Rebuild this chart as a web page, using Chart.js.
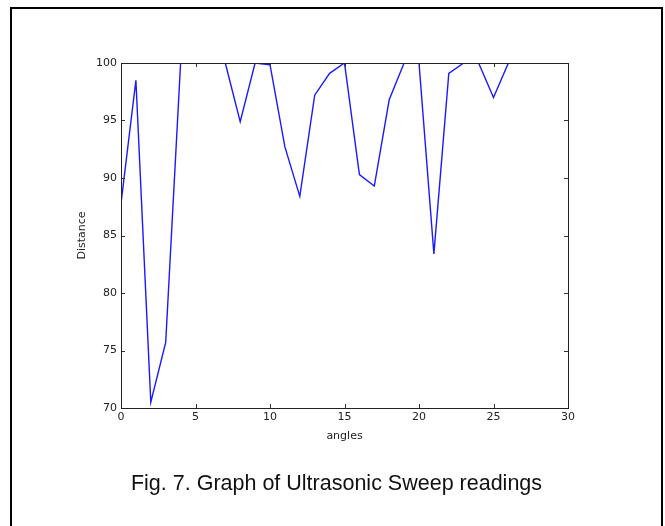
<!DOCTYPE html>
<html>
<head>
<meta charset="utf-8">
<script src="https://cdn.jsdelivr.net/npm/chart.js@4"></script>
<style>
  html, body { margin: 0; padding: 0; background: #fff; }
  body { width: 665px; height: 526px; position: relative; overflow: hidden; }
  #frame { position: absolute; left: 10px; top: 7px; width: 649px; height: 560px; border: 2px solid #000; box-sizing: content-box; }
  #wrap { position: absolute; left: 0; top: 0; width: 665px; height: 526px; }
  #caption { position: absolute; left: 10px; width: 653px; top: 472px; text-align: center;
    font-family: "Liberation Sans", Arial, sans-serif; font-size: 21.5px; line-height: 22px; color: #111; }
</style>
</head>
<body>
<div id="frame"></div>
<div id="wrap"><canvas id="c" width="665" height="526"></canvas></div>
<div id="caption">Fig. 7. Graph of Ultrasonic Sweep readings</div>
<script>
const angles = [0,1,2,3,4,5,6,7,8,9,10,11,12,13,14,15,16,17,18,19,20,21,22,23,24,25,26];
const distance = [87.8,98.5,70.5,75.7,100,100,100,100,94.9,100,99.85,92.7,88.4,97.2,99.1,100,90.3,89.3,96.8,100,100,83.4,99.1,100,100,97.0,100];
const xTicks = [0,5,10,15,20,25,30];
const yTicks = [70,75,80,85,90,95,100];

const frameTicks = {
  id: 'frameTicks',
  afterDraw(chart) {
    const {ctx, chartArea: a, scales} = chart;
    ctx.save();
    ctx.strokeStyle = '#333';
    ctx.lineWidth = 1;
    const L = 4;
    ctx.beginPath();
    xTicks.forEach(v => {
      const x = Math.round(scales.x.getPixelForValue(v)) + 0.5;
      ctx.moveTo(x, a.bottom); ctx.lineTo(x, a.bottom - L);
      ctx.moveTo(x, a.top); ctx.lineTo(x, a.top + L);
    });
    yTicks.forEach(v => {
      const y = Math.round(scales.y.getPixelForValue(v)) + 0.5;
      ctx.moveTo(a.left, y); ctx.lineTo(a.left + L, y);
      ctx.moveTo(a.right, y); ctx.lineTo(a.right - L, y);
    });
    ctx.stroke();
    ctx.strokeStyle = '#222';
    ctx.strokeRect(Math.round(a.left) + 0.5, Math.round(a.top) + 0.5,
                   Math.round(a.right - a.left), Math.round(a.bottom - a.top));
    ctx.restore();
  }
};

new Chart(document.getElementById('c'), {
  type: 'line',
  data: {
    labels: angles,
    datasets: [{
      data: angles.map((a, i) => ({x: a, y: distance[i]})),
      borderColor: '#1a1aff',
      borderWidth: 1.4,
      pointRadius: 0,
      tension: 0,
      fill: false,
      clip: 0
    }]
  },
  options: {
    responsive: false,
    animation: false,
    devicePixelRatio: 1,
    layout: { padding: { left: 0, top: 63, right: 97, bottom: 78 } },
    plugins: { legend: { display: false }, tooltip: { enabled: false } },
    scales: {
      x: {
        type: 'linear', min: 0, max: 30,
        afterBuildTicks(s) { s.ticks = xTicks.map(v => ({value: v})); },
        afterFit(s) { s.height = 40; },
        grid: { display: false, drawTicks: false },
        border: { display: false },
        ticks: { padding: 3, color: '#222', font: { family: 'DejaVu Sans', size: 11 }, maxRotation: 0 },
        title: { display: true, text: 'angles', color: '#222', font: { family: 'DejaVu Sans', size: 11 }, padding: { top: 0, bottom: 5 } }
      },
      y: {
        type: 'linear', min: 70, max: 100,
        afterBuildTicks(s) { s.ticks = yTicks.map(v => ({value: v})); },
        afterFit(s) { s.width = 121; },
        grid: { display: false, drawTicks: false },
        border: { display: false },
        ticks: { padding: 4, color: '#222', font: { family: 'DejaVu Sans', size: 11 } },
        title: { display: true, text: 'Distance', color: '#222', font: { family: 'DejaVu Sans', size: 11 }, padding: { top: 76, bottom: 0 } }
      }
    }
  },
  plugins: [frameTicks]
});
</script>
</body>
</html>
